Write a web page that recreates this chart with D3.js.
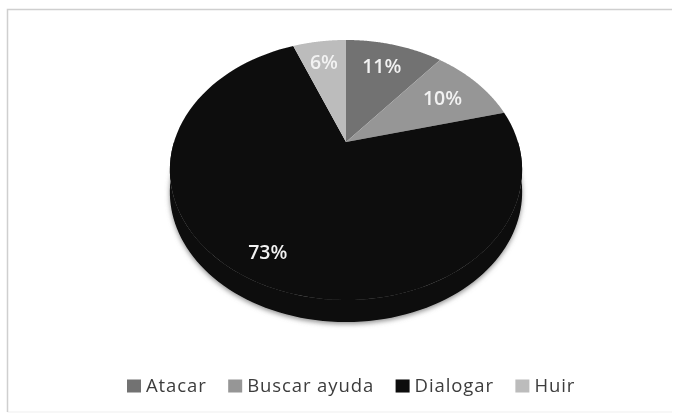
<!DOCTYPE html>
<html>
<head>
<meta charset="utf-8">
<script src="https://cdn.jsdelivr.net/npm/d3@7"></script>
<style>
  html, body { margin: 0; padding: 0; background: #fff; }
  svg { display: block; }
  text { font-family: "Open Sans", sans-serif; }
</style>
</head>
<body>
<svg id="chart" width="675" height="417"></svg>
<script>
const categories = ['Atacar', 'Buscar ayuda', 'Dialogar', 'Huir'];
const shares = [11, 10, 73, 6];
const percentLabels = ['11%', '10%', '73%', '6%'];
const fills = ['#727272', '#969696', '#0d0d0d', '#bcbcbc'];

const width = 675;
const height = 417;
const tau = Math.PI * 2;

// tilted disc: apex sits above the middle of the ellipse
const apex = { x: 346, y: 142 };
const spreadX = 172;
const spreadY = 124;
const tilt = 0.2154;
const depth = 22;

const project = (angle, r) => {
  const u = r * Math.sin(angle);
  const v = -r * Math.cos(angle);
  const w = 1 - tilt * v;
  return [apex.x + (spreadX * u) / w, apex.y + (spreadY * v) / w];
};

const svg = d3.select('#chart');
const defs = svg.append('defs');
defs.append('filter').attr('id', 'soft').append('feGaussianBlur').attr('stdDeviation', 0.6);
defs.append('filter').attr('id', 'shadow').append('feGaussianBlur').attr('stdDeviation', 2.5);

// chart frame, only top and left really show
svg.append('path')
  .attr('d', `M7.5,${height - 5}H${width - 3}`)
  .attr('fill', 'none')
  .attr('stroke', '#f5f5f5')
  .attr('stroke-width', 1.5);
svg.append('path')
  .attr('d', `M7.5,${height - 5}V9.5H${width - 3}`)
  .attr('fill', 'none')
  .attr('stroke', '#cfcfcf')
  .attr('stroke-width', 1.5);

const line = d3.line();
const pie = d3.pie().sort(null).value((d) => d);
const slices = pie(shares);

const arcPoints = (a0, a1, dy = 0) =>
  d3.range(0, 1.0001, 1 / 90).map((t) => {
    const p = project(a0 + (a1 - a0) * t, 1);
    return [p[0], p[1] + dy];
  });

const plot = svg.append('g').attr('filter', 'url(#soft)');

// shadow under the front edge
plot.append('path')
  .attr('d', line(arcPoints(tau * 0.25, tau * 0.75, depth + 2)) + 'Z')
  .attr('fill', '#8f8f8f')
  .attr('filter', 'url(#shadow)');

// side wall
const rim = arcPoints(tau * 0.25, tau * 0.75);
const rimLow = arcPoints(tau * 0.25, tau * 0.75, depth).reverse();
plot.append('path')
  .attr('d', line(rim.concat(rimLow)) + 'Z')
  .attr('fill', '#090909');

// slices
plot.selectAll('path.slice')
  .data(slices)
  .join('path')
  .attr('class', 'slice')
  .attr('d', (d) => line([[apex.x, apex.y]].concat(arcPoints(d.startAngle, d.endAngle))) + 'Z')
  .attr('fill', (d) => fills[d.index]);

// labels: radial spot on the disc plus a small nudge per slice
const labelSpots = [
  { r: 0.7, dy: -4 },
  { r: 0.72, dy: 0 },
  { r: 0.84, dy: 0 },
  { r: 0.8, dy: 4 },
];
plot.selectAll('text.pct')
  .data(slices)
  .join('text')
  .attr('class', 'pct')
  .attr('x', (d) => project((d.startAngle + d.endAngle) / 2, labelSpots[d.index].r)[0])
  .attr('y', (d) => project((d.startAngle + d.endAngle) / 2, labelSpots[d.index].r)[1] + labelSpots[d.index].dy)
  .attr('dy', '0.35em')
  .attr('text-anchor', 'middle')
  .attr('font-size', 19.5)
  .attr('font-weight', 600)
  .attr('fill', '#f2f2f2')
  .text((d) => percentLabels[d.index]);

// legend
const legend = svg.append('g').attr('filter', 'url(#soft)');
let legendX = 127;
categories.forEach((name, i) => {
  const item = legend.append('g').attr('transform', `translate(${legendX},386)`);
  item.append('rect')
    .attr('x', 0)
    .attr('y', -6.5)
    .attr('width', 14)
    .attr('height', 13)
    .attr('fill', fills[i]);
  const label = item.append('text')
    .attr('x', 19)
    .attr('dy', '0.35em')
    .attr('font-size', 18.5)
    .attr('letter-spacing', 0.9)
    .attr('fill', '#3c3c3c')
    .text(name);
  legendX += 19 + label.node().getComputedTextLength() + 21.5;
});
</script>
</body>
</html>
